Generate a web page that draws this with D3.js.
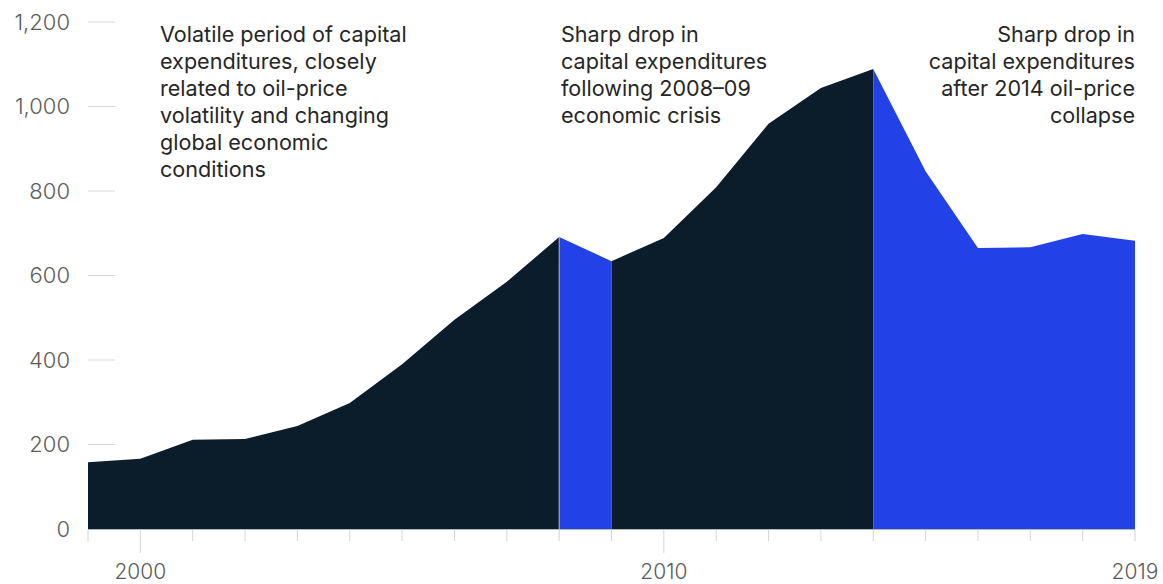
<!DOCTYPE html>
<html>
<head>
<meta charset="utf-8">
<script src="https://cdn.jsdelivr.net/npm/d3@7"></script>
<style>
  html, body { margin: 0; padding: 0; background: #fff; }
  svg { display: block; font-family: "Inter", "Liberation Sans", Arial, sans-serif; }
</style>
</head>
<body>
<svg id="chart" width="1163" height="584"></svg>
<script>
// Capital expenditures by year, $ billion
const years = [1999, 2000, 2001, 2002, 2003, 2004, 2005, 2006, 2007, 2008, 2009,
               2010, 2011, 2012, 2013, 2014, 2015, 2016, 2017, 2018, 2019];
const capex = [158, 166, 211, 213, 244, 298, 390, 495, 585, 691, 634,
               689, 809, 959, 1044, 1089, 847, 665, 667, 698, 682];

// Period segments: [start year, end year, kind]
const periods = [
  [1999, 2008, "volatile"],
  [2008, 2009, "drop"],
  [2009, 2014, "volatile"],
  [2014, 2019, "drop"]
];

const yTicks = [0, 200, 400, 600, 800, 1000, 1200];
const xLabels = [2000, 2010, 2019];

const notes = [
  { year: 2000, anchor: "start", lines: ["Volatile period of capital", "expenditures, closely", "related to oil-price", "volatility and changing", "global economic", "conditions"] },
  { year: 2008, anchor: "start", lines: ["Sharp drop in", "capital expenditures", "following 2008\u201309", "economic crisis"] },
  { year: 2019, anchor: "end", lines: ["Sharp drop in", "capital expenditures", "after 2014 oil-price", "collapse"] }
];

const colors = { volatile: "#0b1c2b", drop: "#2241e6" };

const svg = d3.select("#chart");
const x = d3.scaleLinear().domain([1999, 2019]).range([88, 1135]);
const y = d3.scaleLinear().domain([0, 1200]).range([529, 22]);

const data = years.map((yr, i) => ({ year: yr, value: capex[i] }));

// y gridline stubs and labels
const yg = svg.append("g");
yg.selectAll("line").data(yTicks.filter(d => d > 0)).join("line")
  .attr("x1", 88).attr("x2", 115)
  .attr("y1", d => y(d)).attr("y2", d => y(d))
  .attr("stroke", "#d9d9d9").attr("stroke-width", 1);
yg.selectAll("text").data(yTicks).join("text")
  .attr("x", 70).attr("y", d => y(d))
  .attr("dy", "0.36em")
  .attr("text-anchor", "end")
  .attr("font-size", 22)
  .attr("font-weight", 300)
  .attr("fill", "#5c5c5c")
  .text(d => d3.format(",")(d));

// area segments
const area = d3.area()
  .x(d => x(d.year))
  .y0(y(0))
  .y1(d => y(d.value));

svg.append("g").selectAll("path").data(periods).join("path")
  .attr("d", p => area(data.filter(d => d.year >= p[0] && d.year <= p[1])))
  .attr("fill", p => colors[p[2]]);

// thin separator at the 2008 boundary
svg.append("line")
  .attr("x1", x(2008)).attr("x2", x(2008))
  .attr("y1", y(capex[years.indexOf(2008)])).attr("y2", y(0))
  .attr("stroke", "#c8ccd6").attr("stroke-width", 0.8);

// baseline
svg.append("line")
  .attr("x1", x(1999)).attr("x2", x(2019))
  .attr("y1", y(0) + 0.5).attr("y2", y(0) + 0.5)
  .attr("stroke", "#b8b8b8").attr("stroke-width", 1);

// x ticks
const xg = svg.append("g");
xg.selectAll("line").data(years).join("line")
  .attr("x1", d => x(d)).attr("x2", d => x(d))
  .attr("y1", y(0) + 1)
  .attr("y2", d => (d === 2000 || d === 2010) ? 553 : 541)
  .attr("stroke", "#d4d4d4").attr("stroke-width", 1);
xg.selectAll("text").data(xLabels).join("text")
  .attr("x", d => x(d)).attr("y", 579)
  .attr("text-anchor", "middle")
  .attr("font-size", 21)
  .attr("font-weight", 300)
  .attr("fill", "#5c5c5c")
  .text(d => d);

// annotations
const ng = svg.append("g");
notes.forEach((n, k) => {
  const tx = k === 0 ? 160 : (k === 1 ? 561 : 1135);
  const t = ng.append("text")
    .attr("text-anchor", n.anchor)
    .attr("font-size", 21.6)
    .attr("fill", "#262626");
  n.lines.forEach((ln, i) => {
    t.append("tspan").attr("x", tx).attr("y", 42 + i * 27).text(ln);
  });
});
</script>
</body>
</html>
